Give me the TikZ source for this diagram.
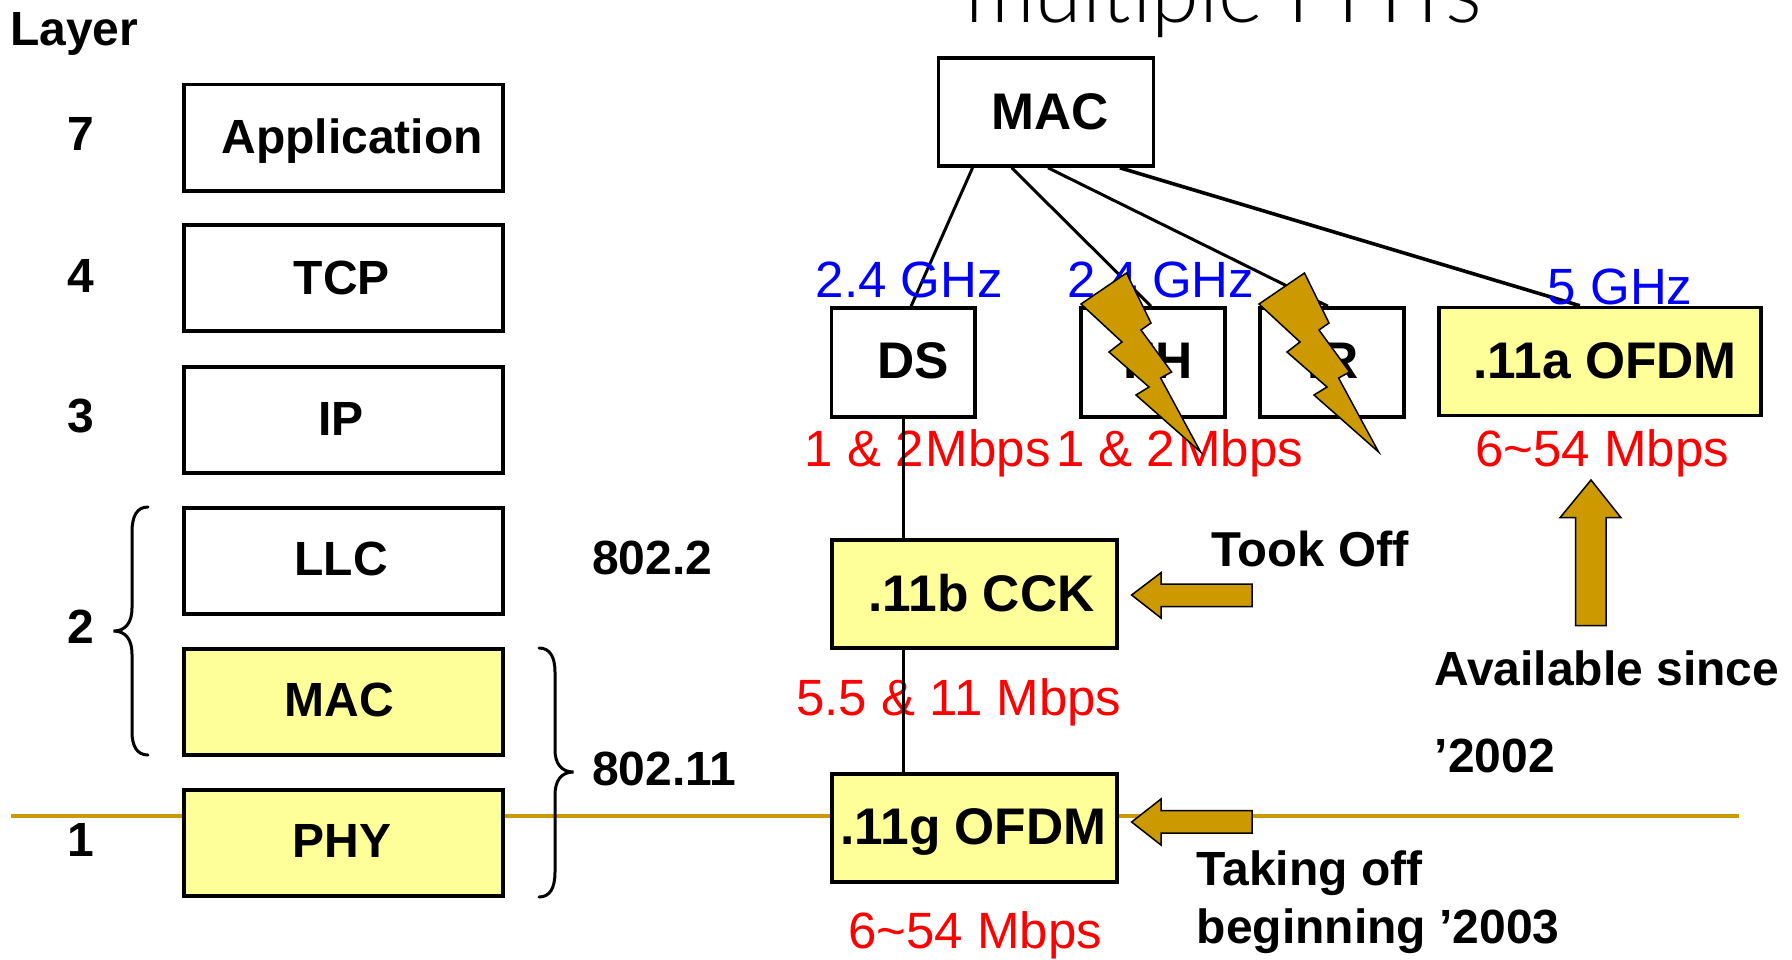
\documentclass[tikz,border=0pt]{standalone}
\usepackage{fontspec}
\setmainfont{Liberation Sans}
\newfontfamily\titlefont{Lato Light}
\usetikzlibrary{calc}
\definecolor{gold}{HTML}{CC9900}
\definecolor{paleyellow}{HTML}{FFFF99}
\newcommand{\tshift}[3]{\raisebox{-#2pt}{\kern#1pt\kern#1pt #3}}
\tikzset{
  plainbox/.style={draw=black,line width=3.6pt,fill=white,inner sep=0pt,text height=0pt,text depth=0pt,font=\bfseries\fontsize{48}{48}\selectfont},
  yellowbox/.style={plainbox,fill=paleyellow},
  bigtext/.style={font=\bfseries\fontsize{51.5}{51.5}\selectfont},
  leftsize/.style={minimum width=319pt,minimum height=106.5pt},
  phyback/.style={minimum width=143.5pt,minimum height=109pt},
  widebox/.style={minimum width=285.5pt,minimum height=108pt},
  boldtext/.style={inner sep=0pt,anchor=base west,font=\bfseries\fontsize{48}{48}\selectfont},
  bluetext/.style={inner sep=0pt,anchor=base west,text=blue,font=\fontsize{51}{51}\selectfont},
  redtext/.style={inner sep=0pt,anchor=base west,text=red,font=\fontsize{51}{51}\selectfont},
  link/.style={draw=black,line width=3pt},
  goldline/.style={draw=gold,line width=4.5pt},
  bracepath/.style={draw=black,line width=3pt,line cap=round},
  goldshape/.style={draw=black,line width=1.5pt,fill=gold,line join=miter}
}
\begin{document}
\begin{tikzpicture}[x=1pt,y=-1pt]
\useasboundingbox (0,0) rectangle (1792,959);
\clip (0,0) rectangle (1792,959);
\fill[white] (0,0) rectangle (1792,959);
% title
\node[inner sep=0pt,anchor=base west,font=\titlefont\fontsize{86.5}{86.5}\selectfont] (title) at (965,22.5) {multiple PHYs};
% layer line
\coordinate (lineL) at (11,816);
\coordinate (lineR) at (1739,816);
\draw[goldline] (lineL) -- (lineR);
% left stack
\node[plainbox,leftsize] (app) at (343.75,137.75) {\tshift{8.5}{15.5}{Application}};
\node[plainbox,leftsize] (tcp) at (343.75,278) {\tshift{-2}{16}{TCP}};
\node[plainbox,leftsize] (ip) at (343.75,420) {\tshift{-3}{15.5}{IP}};
\node[plainbox,leftsize] (llc) at (343.75,561) {\tshift{-2.75}{14.7}{LLC}};
\node[yellowbox,leftsize] (lmac) at (343.75,702) {\tshift{-4.25}{14.7}{MAC}};
\node[yellowbox,leftsize] (phy) at (343.75,843) {\tshift{-2}{14}{PHY}};
% layer numbers
\node[boldtext] (layer) at (10,45) {Layer};
\node[boldtext] (n7) at (67,150) {7};
\node[boldtext] (n4) at (67,292) {4};
\node[boldtext] (n3) at (67,432) {3};
\node[boldtext] (n2) at (67,643) {2};
\node[boldtext] (n1) at (67,856) {1};
% braces
\draw[bracepath] (148,507) .. controls (137,507) and (132,516) .. (132,532) -- (132,608) .. controls (132,622) and (126,631) .. (113.5,631) .. controls (126,631) and (132,640) .. (132,654) -- (132,732) .. controls (132,746) and (137,755) .. (148,755);
\draw[bracepath] (539,648) .. controls (550,648) and (555,657) .. (555,672) -- (555,750) .. controls (555,763) and (561,772) .. (573.5,772) .. controls (561,772) and (555,781) .. (555,795) -- (555,872) .. controls (555,888) and (550,897) .. (539,897);
\node[boldtext] (std2) at (592,574) {802.2};
\node[boldtext] (std11) at (592,785) {802.11};
% right side
\node[plainbox,bigtext,minimum width=215pt,minimum height=108pt] (mac) at (1046,112) {\tshift{4}{17.5}{MAC}};
\node[plainbox,bigtext,phyback] (ds) at (903.3,362.5) {\tshift{9.7}{16}{DS}};
\node[plainbox,bigtext,phyback] (fh) at (1153,362.5) {\tshift{5}{16}{FH}};
\node[plainbox,bigtext,phyback] (ir) at (1332,362.5) {\tshift{1}{16}{IR}};
\node[yellowbox,bigtext,minimum width=322pt,minimum height=108pt] (a) at (1600,361.5) {\tshift{5}{17}{.11a OFDM}};
\node[yellowbox,bigtext,widebox] (b) at (974.5,594) {\tshift{7}{17.5}{.11b CCK}};
\node[yellowbox,bigtext,widebox] (g) at (974.5,828) {\tshift{-1}{16.5}{.11g OFDM}};
% connectors
\draw[link] ($(mac.south west)!.164!(mac.south east)$) -- ($(ds.north west)!.553!(ds.north east)$);
\draw[link] ($(mac.south west)!.343!(mac.south east)$) -- ($(fh.north west)!.486!(fh.north east)$);
\draw[link] ($(mac.south west)!.509!(mac.south east)$) -- ($(ir.north west)!.472!(ir.north east)$);
\draw[link,line width=3.6pt] ($(mac.south west)!.838!(mac.south east)$) -- ($(a.north west)!.438!(a.north east)$);
% rate and band labels
\node[bluetext] (f1) at (815.5,297) {2.4 GHz};
\node[bluetext] (f2) at (1067,297) {2.4 GHz};
\node[bluetext] (f3) at (1547.7,304) {5 GHz};
\node[redtext] (r1) at (804.5,466) {1 \& 2\kern-12pt{} Mbps};
\node[redtext] (r2) at (1056,466) {1 \& 2\kern-11pt{} Mbps};
\node[redtext] (r3) at (1475,466) {6\textasciitilde 54 Mbps};
\node[redtext] (r4) at (796,715) {5.5 \& 11 Mbps};
\node[redtext] (r5) at (848,948) {6\textasciitilde 54 Mbps};
\draw[link] (ds.south) -- (ds.south |- b.north);
\draw[link] (ds.south |- b.south) -- (ds.south |- g.north);
% lightning
\foreach \dx in {0,178}{
\draw[goldshape,shift={(\dx,0)}] (1126.5,273) -- (1151,323) -- (1141,330) -- (1171.6,372) -- (1160.6,378) -- (1200.6,452) -- (1136,395) -- (1149,387) -- (1109,352) -- (1122,342) -- (1081,304) -- cycle;
}
% block arrows
\draw[goldshape] (1131.6,595) -- (1161,572.7) -- (1161,584) -- (1252,584) -- (1252,606.7) -- (1161,606.7) -- (1161,618) -- cycle;
\draw[goldshape] (1131.6,822) -- (1161,799) -- (1161,810.7) -- (1252,810.7) -- (1252,833) -- (1161,833) -- (1161,845) -- cycle;
\draw[goldshape] (1591,480) -- (1621,517.7) -- (1606,517.7) -- (1606,625.7) -- (1575.5,625.7) -- (1575.5,517.7) -- (1560,517.7) -- cycle;
% notes
\node[boldtext,font=\bfseries\fontsize{49}{49}\selectfont] (t1) at (1211,566.7) {Took Off};
\node[boldtext] (t2) at (1434,685) {Available since};
\node[boldtext] (t3) at (1434.5,772) {’2002};
\node[boldtext] (t4) at (1196.5,885) {Taking off};
\node[boldtext] (t5) at (1196.5,943) {beginning ’2003};
\end{tikzpicture}
\end{document}
